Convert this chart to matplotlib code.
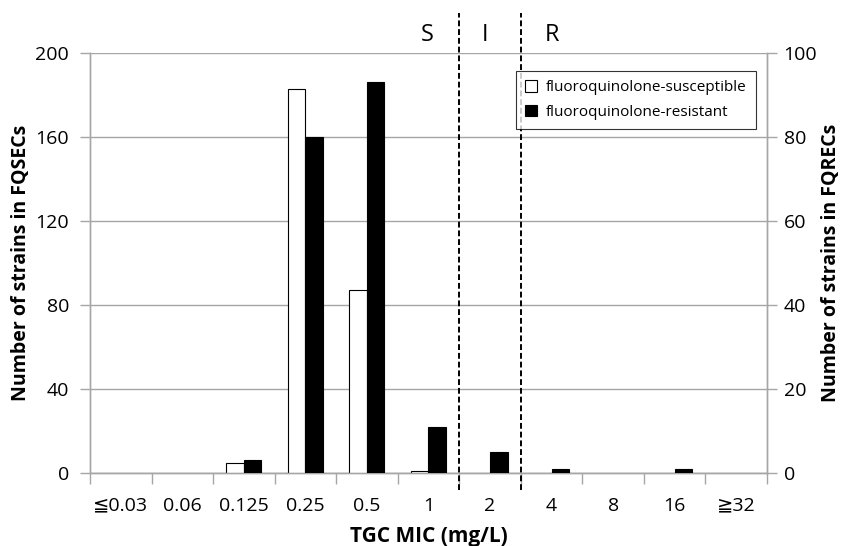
import matplotlib
matplotlib.use("Agg")
import matplotlib.pyplot as plt
from matplotlib.patches import Patch
import numpy as np

plt.rcParams['font.family'] = ['Open Sans', 'DejaVu Sans']

categories = ["≦0.03", "0.06", "0.125", "0.25", "0.5", "1", "2", "4", "8", "16", "≧32"]
fqsec = [0, 0, 5, 183, 87, 1, 0, 0, 0, 0, 0]
fqrec = [0, 0, 3, 80, 93, 11, 5, 1, 0, 1, 0]
left_ticks = [0, 40, 80, 120, 160, 200]
right_ticks = [0, 20, 40, 60, 80, 100]
zone_labels = ["S", "I", "R"]

fig = plt.figure(figsize=(8.45, 5.46), dpi=100)
ax = fig.add_axes([0.1065, 0.1337, 0.8012, 0.7692])
ax2 = ax.twinx()

x = np.arange(len(categories))
w = 0.285
lw1 = [0.8 if v > 0 else 0 for v in fqsec]
lw2 = [0.8 if v > 0 else 0 for v in fqrec]
ax.bar(x - w / 2, fqsec, w, facecolor="white", edgecolor="black", linewidth=lw1, zorder=3)
ax2.bar(x + w / 2, fqrec, w, facecolor="black", edgecolor="black", linewidth=lw2, zorder=3)

ax.set_xlim(-0.5, len(categories) - 0.5)
ax.set_ylim(0, 200)
ax2.set_ylim(0, 100)
ax.set_yticks(left_ticks)
ax2.set_yticks(right_ticks)
ax.yaxis.grid(True, color="#a6a6a6", linewidth=1.0, zorder=0)
ax.set_axisbelow(True)

ax.set_xticks(x)
ax.set_xticklabels(categories, fontsize=14)
ax.tick_params(axis="x", length=0, pad=17)
ax.set_xticks(np.arange(-0.5, len(categories)), minor=True)
ax.tick_params(axis="x", which="minor", length=8, color="#a6a6a6", width=1.0)
ax.tick_params(axis="y", labelsize=14, length=7, color="#a6a6a6", width=1.0, pad=8)
ax2.tick_params(axis="y", labelsize=14, length=7, color="#a6a6a6", width=1.0, pad=5)

for a in (ax, ax2):
    a.spines["top"].set_visible(False)
    for s in ("left", "right", "bottom"):
        a.spines[s].set_color("#a6a6a6")
        a.spines[s].set_linewidth(1.0)

ax.set_ylabel("Number of strains in FQSECs", fontsize=14, fontweight="bold", labelpad=3)
ax2.set_ylabel("Number of strains in FQRECs", fontsize=14, fontweight="bold", labelpad=3)
ax.set_xlabel("TGC MIC (mg/L)", fontsize=15, fontweight="bold", labelpad=8)

for xv in (5.5, 6.5):
    ax.axvline(xv, ymin=-0.04, ymax=1.095, color="black", linestyle=(0, (3, 1.5)),
               linewidth=1.4, clip_on=False, zorder=4)

for xv, t in zip((4.98, 5.92, 7.0), zone_labels):
    ax.text(xv, 1.028, t, transform=ax.get_xaxis_transform(), fontsize=17,
            ha="center", va="baseline")

handles = [Patch(facecolor="white", edgecolor="black", linewidth=0.8),
           Patch(facecolor="black", edgecolor="black", linewidth=0.8)]
labels = ["fluoroquinolone-susceptible", "fluoroquinolone-resistant"]
leg = ax2.legend(handles, labels, loc="upper right", bbox_to_anchor=(0.995, 0.975),
                 fontsize=11, frameon=True, fancybox=False, edgecolor="black",
                 handlelength=0.8, handleheight=0.8, borderpad=0.6, labelspacing=0.6,
                 handletextpad=0.6)
leg.get_frame().set_linewidth(0.8)
leg.set_zorder(10)

fig.savefig("out.png", dpi=100)
